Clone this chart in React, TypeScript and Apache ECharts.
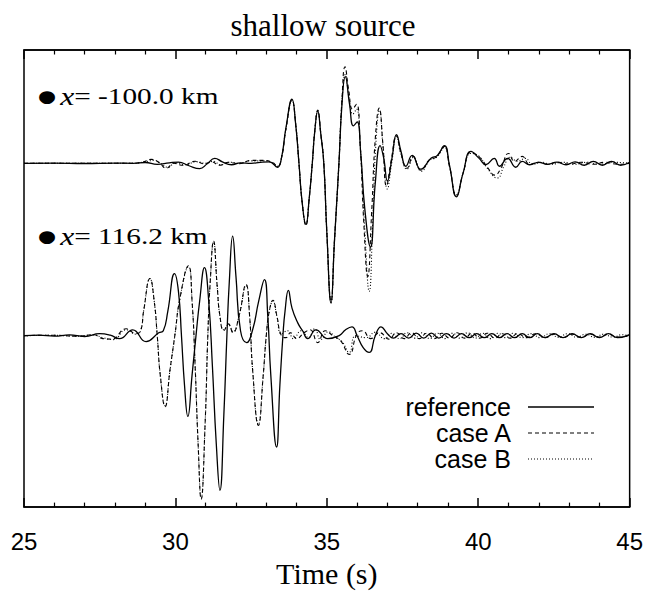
import React, { useEffect, useRef } from "react";
import * as echarts from "echarts";

// time axis
const X_MIN = 25;
const X_MAX = 45;
const X_TICKS = [25, 30, 35, 40, 45];

// trace baselines (amplitude units)
const TRACE_OFFSETS = [10, -7.5];
const TRACE_LABELS = ["-100.0 km", "116.2 km"];
const CASES = ["reference", "case A", "case B"];

// Trace 1: x = -100.0 km  [time, amplitude]
const T1_REF: number[][] = [
  [25, 0], [26, 0.02], [27, -0.02], [28, 0.02], [28.6, 0], [29.0, 0.08], [29.4, -0.1], [29.8, 0.05],
  [30.1, 0.12], [30.45, -0.25], [30.8, -0.55], [31.05, -0.05], [31.3, 0.5], [31.55, 0.15], [31.85, -0.15],
  [32.15, 0.05], [32.5, 0.0], [32.8, 0.1], [33.1, 0.15], [33.37, -0.4], [33.5, 0.5], [33.65, 3.6],
  [33.85, 6.5], [33.97, 4.0], [34.08, 0], [34.18, -3.8], [34.31, -6.2], [34.42, -3.5], [34.52, 0],
  [34.6, 3.2], [34.7, 5.3], [34.8, 3.0], [34.9, 0], [35.0, -7.0], [35.14, -14.2], [35.25, -8],
  [35.4, 0], [35.5, 6.0], [35.61, 8.8], [35.75, 6.0], [35.88, 3.8], [36.0, 4.2], [36.12, 1.0],
  [36.25, -4.5], [36.44, -8.5], [36.6, -2.0], [36.76, 1.8], [36.88, 0.5], [37.0, -1.8], [37.15, 0.5],
  [37.3, 2.9], [37.45, 1.2], [37.61, -0.3], [37.82, 0.8], [38.1, -0.6], [38.44, 0.5], [38.65, 0.8],
  [38.88, 1.8], [39.05, -0.2], [39.28, -3.4], [39.5, -1.0], [39.76, 1.2], [40.03, 0.5], [40.25, -0.15],
  [40.53, 0.5], [40.7, -0.3], [40.97, 0.5], [41.24, -0.4], [41.45, 0.2], [41.7, -0.15], [42.0, 0.1],
  [42.3, -0.1], [42.6, 0.12], [42.9, -0.15], [43.2, 0.15], [43.5, -0.2], [43.8, 0.2], [44.1, -0.2],
  [44.4, 0.2], [44.7, -0.2], [45, 0.1],
];
const T1_A: number[][] = [
  [25, 0], [27, 0], [28.5, 0], [28.9, 0.1], [29.2, 0.4], [29.45, 0.1], [29.7, -0.5], [29.95, 0.0],
  [30.25, -0.2], [30.65, 0.2], [30.95, -0.05], [31.2, 0.15], [31.45, -0.2], [31.75, 0.1], [32.1, -0.05],
  [32.5, 0.3], [32.9, 0.3], [33.2, 0.1], [33.37, -0.3], [33.5, 0.5], [33.65, 3.5], [33.85, 6.4],
  [33.97, 4.0], [34.08, 0], [34.18, -3.8], [34.31, -6.3], [34.42, -3.5], [34.52, 0], [34.6, 3.2],
  [34.7, 5.4], [34.8, 3.0], [34.9, 0], [35.0, -7.0], [35.14, -14.0], [35.25, -8], [35.4, 0],
  [35.5, 6.5], [35.6, 9.8], [35.72, 7.5], [35.85, 5.5], [35.98, 6.0], [36.1, 2.0], [36.22, -6.0],
  [36.35, -11.5], [36.48, -5.0], [36.6, 2.5], [36.73, 5.6], [36.85, 2.0], [36.97, -2.3], [37.12, 0.2],
  [37.3, 2.8], [37.45, 1.0], [37.65, -0.5], [37.85, 0.7], [38.1, -0.7], [38.4, 0.4], [38.6, 0.6],
  [38.88, 1.7], [39.05, -0.3], [39.28, -3.3], [39.5, -1.0], [39.76, 1.1], [40.05, 0.6], [40.3, -0.4],
  [40.55, -1.2], [40.75, -0.5], [41.0, 1.0], [41.2, 0.2], [41.45, 0.7], [41.7, -0.1], [42.0, 0.1],
  [42.3, -0.1], [42.6, 0.1], [43.0, -0.1], [43.4, 0.1], [43.8, -0.1], [44.2, 0.1], [44.6, -0.1], [45, 0],
];
const T1_B: number[][] = [
  [25, 0], [27, 0], [28.6, 0], [29.0, 0.15], [29.3, 0.3], [29.5, 0.0], [29.75, -0.4], [30.0, 0.05],
  [30.3, -0.15], [30.7, 0.15], [31.0, 0.0], [31.25, 0.2], [31.5, -0.15], [31.8, 0.1], [32.1, 0.0],
  [32.5, 0.25], [32.9, 0.25], [33.2, 0.05], [33.37, -0.3], [33.5, 0.5], [33.65, 3.5], [33.85, 6.4],
  [33.97, 4.0], [34.08, 0], [34.18, -3.8], [34.31, -6.2], [34.42, -3.5], [34.52, 0], [34.6, 3.2],
  [34.7, 5.3], [34.8, 3.0], [34.9, 0], [35.0, -7.0], [35.14, -14.1], [35.25, -8], [35.4, 0],
  [35.5, 6.2], [35.61, 9.0], [35.74, 6.5], [35.86, 5.0], [35.98, 5.5], [36.1, 2.0], [36.25, -6.5],
  [36.4, -13.0], [36.52, -5.5], [36.62, 2.0], [36.74, 5.4], [36.86, 1.5], [37.0, -2.6], [37.14, 0.0],
  [37.3, 2.7], [37.45, 0.9], [37.65, -0.6], [37.86, 0.6], [38.12, -0.8], [38.4, 0.3], [38.62, 0.6],
  [38.88, 1.6], [39.05, -0.3], [39.28, -3.2], [39.5, -1.0], [39.76, 1.0], [40.03, 0.7], [40.3, -0.5],
  [40.63, -1.5], [40.85, -0.3], [41.05, 0.6], [41.3, 0.2], [41.55, 0.5], [41.8, -0.1], [42.1, 0.1],
  [42.4, -0.1], [42.8, 0.1], [43.2, -0.1], [43.6, 0.1], [44.0, -0.1], [44.5, 0.1], [45, 0],
];

// Trace 2: x = 116.2 km  [time, amplitude]
const T2_REF: number[][] = [
  [25, 0], [25.5, 0.05], [26, -0.05], [26.5, 0.08], [27.0, -0.08], [27.5, 0.2], [27.85, 0.05],
  [28.15, -0.3], [28.59, 0.6], [29.03, -0.6], [29.45, 0.3], [29.6, 0.5], [29.75, 2.5], [29.97, 6.3],
  [30.1, 4.5], [30.2, 0], [30.3, -5.0], [30.41, -8.2], [30.55, -4.0], [30.68, 0], [30.8, 3.5],
  [30.96, 6.9], [31.1, 3.5], [31.22, -3.0], [31.35, -11.0], [31.47, -15.7], [31.6, -8.0], [31.7, 0],
  [31.78, 5.5], [31.89, 10.1], [32.0, 6.0], [32.15, 0.5], [32.35, -0.7], [32.55, 0.6], [32.75, 3.5],
  [32.94, 5.7], [33.05, 2.0], [33.15, -4.0], [33.34, -11.3], [33.45, -5.0], [33.55, 0], [33.62, 2.5],
  [33.73, 4.6], [33.85, 2.8], [34.04, 1.3], [34.2, 0.5], [34.37, -0.3], [34.64, 0.6], [35.03, -0.3],
  [35.41, 0.0], [35.62, 0.6], [35.83, 0.9], [36.0, 0], [36.2, -1.2], [36.4, -1.7], [36.6, 0],
  [36.79, 0.9], [37.0, 0.2], [37.2, -0.25], [37.45, 0.2], [37.7, -0.25], [37.95, 0.25], [38.2, -0.25],
  [38.45, 0.25], [38.7, -0.25], [38.95, 0.2], [39.2, -0.25], [39.45, 0.2], [39.7, -0.2], [39.95, 0.2],
  [40.2, -0.2], [40.45, 0.2], [40.7, -0.2], [40.95, 0.2], [41.2, -0.2], [41.45, 0.2], [41.7, -0.2],
  [41.95, 0.2], [42.2, -0.2], [42.5, 0.2], [42.8, -0.2], [43.1, 0.2], [43.4, -0.2], [43.7, 0.2],
  [44.0, -0.2], [44.3, 0.2], [44.6, -0.2], [45, 0.1],
];
const T2_A: number[][] = [
  [25, 0], [26, 0.05], [26.8, -0.05], [27.3, 0.1], [27.6, -0.3], [27.9, -0.35], [28.37, 0.7],
  [28.7, 0.2], [28.85, 0.5], [28.95, 2.5], [29.16, 5.8], [29.3, 3.5], [29.4, 0], [29.5, -4.0],
  [29.66, -7.2], [29.82, -3.5], [29.98, 0], [30.15, 3.8], [30.43, 7.1], [30.55, 3.5], [30.65, -3.0],
  [30.75, -11.0], [30.85, -16.6], [30.98, -9.0], [31.07, 0], [31.15, 5.5], [31.26, 9.6], [31.38, 5.0],
  [31.47, 2.0], [31.6, 0.5], [31.75, 1.2], [31.9, 0.3], [32.1, 2.0], [32.33, 5.2], [32.45, 2.0],
  [32.55, -3.5], [32.74, -9.1], [32.9, -4.0], [33.0, 0], [33.1, 2.5], [33.22, 3.6], [33.35, 2.0],
  [33.5, 0], [33.65, -0.2], [33.8, 0.3], [34.0, -0.3], [34.25, 0.3], [34.45, 0.6], [34.7, -0.7],
  [34.95, 0.5], [35.2, 0], [35.45, -0.5], [35.74, -1.9], [36.0, 0.2], [36.18, 0.5], [36.45, -0.3],
  [36.75, 0.3], [37.05, -0.35], [37.3, 0.3], [37.55, -0.3], [37.8, 0.3], [38.05, -0.3], [38.3, 0.25],
  [38.55, -0.3], [38.8, 0.25], [39.05, -0.25], [39.3, 0.3], [39.55, -0.25], [39.8, 0.25], [40.05, -0.25],
  [40.3, 0.25], [40.55, -0.25], [40.8, 0.2], [41.05, -0.25], [41.3, 0.2], [41.6, -0.2], [41.9, 0.2],
  [42.2, -0.2], [42.5, 0.15], [42.8, -0.2], [43.1, 0.15], [43.4, -0.15], [43.7, 0.15], [44.0, -0.15],
  [44.3, 0.15], [44.6, -0.15], [45, 0],
];
const T2_B: number[][] = [
  [25, 0], [26, 0.03], [26.8, -0.05], [27.3, 0.08], [27.6, -0.2], [27.95, -0.4], [28.37, 0.6],
  [28.7, 0.15], [28.85, 0.5], [28.95, 2.5], [29.16, 5.8], [29.3, 3.5], [29.4, 0], [29.5, -4.0],
  [29.66, -7.1], [29.82, -3.5], [29.98, 0], [30.15, 3.8], [30.43, 7.0], [30.55, 3.5], [30.65, -3.0],
  [30.75, -11.0], [30.85, -16.5], [30.98, -9.0], [31.07, 0], [31.15, 5.5], [31.26, 9.5], [31.38, 5.0],
  [31.47, 2.0], [31.6, 0.6], [31.75, 1.1], [31.9, 0.4], [32.1, 2.0], [32.33, 5.1], [32.45, 2.0],
  [32.55, -3.5], [32.74, -9.0], [32.9, -4.0], [33.0, 0], [33.1, 2.5], [33.22, 3.5], [33.35, 2.0],
  [33.5, 0.2], [33.7, 0.5], [33.9, -0.3], [34.15, 0.5], [34.4, -0.2], [34.6, 0.7], [34.8, -0.4],
  [35.05, 0.4], [35.3, -0.2], [35.5, -0.6], [35.74, -1.7], [35.95, 0.0], [36.3, -0.2], [36.6, 0.35],
  [36.9, -0.3], [37.15, 0.25], [37.4, -0.3], [37.65, 0.3], [37.9, -0.25], [38.15, 0.3], [38.4, -0.3],
  [38.65, 0.25], [38.9, -0.3], [39.15, 0.25], [39.4, -0.25], [39.65, 0.3], [39.9, -0.25], [40.15, 0.25],
  [40.4, -0.3], [40.65, 0.25], [40.9, -0.2], [41.15, 0.25], [41.45, -0.2], [41.75, 0.2], [42.05, -0.2],
  [42.35, 0.2], [42.65, -0.15], [42.95, 0.2], [43.25, -0.15], [43.55, 0.15], [43.85, -0.15],
  [44.15, 0.15], [44.45, -0.15], [44.75, 0.1], [45, 0],
];

const TRACES: Record<string, number[][][]> = {
  reference: [T1_REF, T2_REF],
  "case A": [T1_A, T2_A],
  "case B": [T1_B, T2_B],
};

const LINE_STYLES: Record<string, { type: any; width: number; dash: number[] | null }> = {
  reference: { type: "solid", width: 1.3, dash: null },
  "case A": { type: [4, 3], width: 1.1, dash: [4, 3] },
  "case B": { type: [1, 2], width: 1.1, dash: [1, 2] },
};

const SERIF = "'Liberation Serif', 'Times New Roman', serif";
const SANS = "'Liberation Sans', Arial, sans-serif";

function buildOption() {
  const series: any[] = [];
  const order = ["case B", "case A", "reference"];
  order.forEach((name) => {
    TRACES[name].forEach((pts, i) => {
      series.push({
        name,
        type: "line",
        data: pts.map(([t, a]) => [t, a + TRACE_OFFSETS[i]]),
        showSymbol: false,
        symbol: "none",
        smooth: 0.5,
        lineStyle: {
          color: "#000",
          width: LINE_STYLES[name].width,
          type: LINE_STYLES[name].type,
        },
        z: name === "reference" ? 3 : 2,
        silent: true,
      });
    });
  });

  const legendY = [407, 433, 459];
  const graphic: any[] = [];
  CASES.forEach((name, i) => {
    graphic.push({
      type: "text",
      x: 511,
      y: legendY[i],
      style: {
        text: name,
        align: "right",
        verticalAlign: "middle",
        font: `25px ${SANS}`,
        fill: "#000",
      },
    });
    const ls = LINE_STYLES[name];
    graphic.push({
      type: "line",
      shape: { x1: 528, y1: legendY[i], x2: 594, y2: legendY[i] },
      style: { stroke: "#000", lineWidth: ls.width, lineDash: ls.dash || undefined },
    });
  });
  const labelY = [96, 236];
  TRACE_LABELS.forEach((lab, i) => {
    graphic.push({
      type: "text",
      x: 38,
      y: labelY[i],
      scaleX: 1.22,
      style: {
        text: `{b|●} {i|x}{n|= ${lab}}`,
        verticalAlign: "middle",
        fill: "#000",
        rich: {
          b: { fontSize: 17, fontFamily: "'DejaVu Sans', sans-serif", fill: "#000" },
          i: { fontSize: 26, fontFamily: SERIF, fontStyle: "italic", fill: "#000" },
          n: { fontSize: 24, fontFamily: SERIF, fill: "#000" },
        },
      },
    });
  });

  const axisCommon = {
    type: "value",
    min: X_MIN,
    max: X_MAX,
    interval: X_TICKS[1] - X_TICKS[0],
    axisLine: { show: true, onZero: false, lineStyle: { color: "#000", width: 1.5 } },
    axisTick: { show: true, inside: true, length: 9, lineStyle: { color: "#000", width: 1.5 } },
    minorTick: { show: true, splitNumber: 5, length: 4.5, lineStyle: { color: "#000", width: 1.2 } },
    splitLine: { show: false },
    minorSplitLine: { show: false },
  };

  return {
    animation: false,
    backgroundColor: "#fff",
    title: {
      text: "shallow source",
      left: "center",
      top: 5,
      textStyle: { fontFamily: SERIF, fontSize: 31, fontWeight: "normal", color: "#000" },
    },
    grid: {
      left: 24,
      right: 16,
      top: 50,
      bottom: 79,
      show: true,
      borderColor: "#000",
      borderWidth: 1.5,
      backgroundColor: "transparent",
    },
    xAxis: [
      {
        ...axisCommon,
        position: "bottom",
        axisLabel: { show: true, fontSize: 24, fontFamily: SANS, color: "#000", margin: 22 },
        name: "Time (s)",
        nameLocation: "middle",
        nameGap: 48,
        nameTextStyle: { fontFamily: SERIF, fontSize: 30, color: "#000" },
      },
      {
        ...axisCommon,
        position: "top",
        axisLabel: { show: false },
      },
    ],
    yAxis: {
      type: "value",
      min: -24.9,
      max: 21.5,
      show: false,
    },
    series,
    graphic,
  };
}

export default function App() {
  const ref = useRef<HTMLDivElement>(null);
  useEffect(() => {
    document.body.style.margin = "0";
    if (!ref.current) return;
    const chart = echarts.init(ref.current, null, { renderer: "svg" });
    chart.setOption(buildOption() as any);
    return () => chart.dispose();
  }, []);
  return <div ref={ref} style={{ width: 646, height: 593 }} />;
}
